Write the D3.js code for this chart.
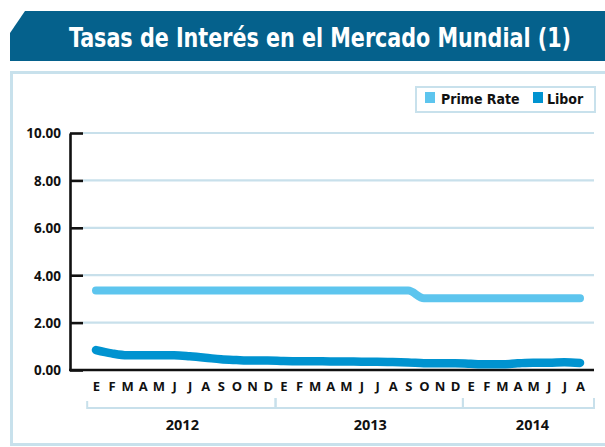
<!DOCTYPE html>
<html><head><meta charset="utf-8">
<script src="https://cdn.jsdelivr.net/npm/d3@7"></script>
<style>
html,body{margin:0;padding:0;background:#fff;}
svg{display:block;}
</style></head>
<body>
<svg id="chart" width="605" height="447"></svg>
<script>
// ---- data ----
const title = "Tasas de Interés en el Mercado Mundial (1)";
const months = ["E","F","M","A","M","J","J","A","S","O","N","D",
                "E","F","M","A","M","J","J","A","S","O","N","D",
                "E","F","M","A","M","J","J","A"];
const years = ["2012","2013","2014"];
const monthsPerYear = [12,12,8];
const seriesNames = ["Prime Rate","Libor"];
const primeRate = [3.35,3.35,3.35,3.35,3.35,3.35,3.35,3.35,3.35,3.35,3.35,3.35,
                   3.35,3.35,3.35,3.35,3.35,3.35,3.35,3.35,3.35,3.03,3.03,3.03,
                   3.03,3.03,3.03,3.03,3.03,3.03,3.03,3.03];
const libor = [0.84,0.70,0.62,0.62,0.62,0.62,0.58,0.52,0.45,0.42,0.40,0.40,
               0.38,0.37,0.37,0.36,0.36,0.35,0.35,0.34,0.32,0.29,0.28,0.29,
               0.26,0.24,0.24,0.28,0.31,0.31,0.33,0.30];
const yTicks = [0,2,4,6,8,10];

// ---- styles ----
const C = {banner:"#05618c", panel:"#c8e1ec", grid:"#c8e0eb", prime:"#5dc5ee", libor:"#0093d0", ink:"#111"};
const labelFont = "'Open Sans','DejaVu Sans',sans-serif";
const condFont = "'DejaVu Sans Condensed','Liberation Sans Narrow',sans-serif";

const svg = d3.select("#chart");

// banner
svg.append("path")
  .attr("d","M25,11 H605 V61 H10 V33 Z")
  .attr("fill",C.banner);
svg.append("text")
  .attr("transform","translate(320,47) scale(1,1.13)")
  .attr("text-anchor","middle")
  .attr("font-family",condFont)
  .attr("font-weight","bold").attr("font-size",23).attr("fill","#fff")
  .text(title);

// panel
svg.append("rect")
  .attr("x",11.5).attr("y",72.5).attr("width",600).attr("height",372)
  .attr("fill","none").attr("stroke",C.panel).attr("stroke-width",3);

// scales
const x = d3.scaleLinear().domain([0, months.length-1]).range([96, 580]);
const y = d3.scaleLinear().domain([0,10]).range([370,133]);
const axisX0 = 70, plotRight = 594;

// gridlines
svg.append("g").selectAll("line").data(yTicks.filter(d=>d>0)).join("line")
  .attr("x1",83).attr("x2",plotRight)
  .attr("y1",d=>y(d)).attr("y2",d=>y(d))
  .attr("stroke",C.grid).attr("stroke-width",2.2);

// y axis
const yAxis = svg.append("g").attr("transform",`translate(${axisX0},0)`)
  .call(d3.axisLeft(y).tickValues(yTicks).tickFormat(d3.format(".2f"))
        .tickSizeInner(-13).tickSizeOuter(0).tickPadding(9));
yAxis.select(".domain").attr("stroke",C.ink).attr("stroke-width",2.6);
yAxis.selectAll(".tick line").attr("stroke",C.ink).attr("stroke-width",2.6);
yAxis.selectAll(".tick text").attr("font-family",labelFont).attr("font-weight","bold")
  .attr("font-size",13.5).attr("fill",C.ink).attr("dy","0.36em");

// x baseline
svg.append("line").attr("x1",axisX0-1).attr("x2",plotRight)
  .attr("y1",y(0)).attr("y2",y(0)).attr("stroke",C.ink).attr("stroke-width",2.4);

// month labels
const xAxis = svg.append("g").attr("transform",`translate(0,382)`)
  .call(d3.axisBottom(x).tickValues(d3.range(months.length)).tickFormat(i=>months[i])
        .tickSize(0).tickPadding(0));
xAxis.select(".domain").remove();
xAxis.selectAll(".tick text").attr("font-family",labelFont).attr("font-weight","bold")
  .attr("font-size",13).attr("fill",C.ink).attr("dy","0.71em");

// year brackets
const step = x(1)-x(0);
let start = 0;
const brackets = years.map((yr,i)=>{
  const s = start, e = start + monthsPerYear[i] - 1;
  start += monthsPerYear[i];
  const x1 = x(s) - step/2 - (i===0 ? 1 : 0);
  const x2 = i===years.length-1 ? plotRight : x(e) + step/2;
  return {yr, x1, x2, first:i===0};
});
const bg = svg.append("g");
bg.selectAll("path").data(brackets).join("path")
  .attr("d",d=>`M${d.x1},${d.first?401:398} V408 H${d.x2} V398`)
  .attr("fill","none").attr("stroke",C.grid).attr("stroke-width",2);
bg.selectAll("text").data(brackets).join("text")
  .attr("x",d=>(d.x1+d.x2)/2 + (d.x2===plotRight?4:1)).attr("y",430)
  .attr("text-anchor","middle")
  .attr("font-family",labelFont).attr("font-weight","bold").attr("font-size",14.5).attr("fill",C.ink)
  .text(d=>d.yr);

// lines
const lineGen = d3.line().x((d,i)=>x(i)).y(d=>y(d)).curve(d3.curveMonotoneX);
svg.append("path").datum(primeRate).attr("d",lineGen)
  .attr("fill","none").attr("stroke",C.prime).attr("stroke-width",8)
  .attr("stroke-linecap","round").attr("stroke-linejoin","round");
svg.append("path").datum(libor).attr("d",lineGen)
  .attr("fill","none").attr("stroke",C.libor).attr("stroke-width",8.5)
  .attr("stroke-linecap","round").attr("stroke-linejoin","round");

// legend
const lg = svg.append("g");
lg.append("rect").attr("x",416).attr("y",87).attr("width",179).attr("height",25)
  .attr("fill","#fff").attr("stroke",C.panel).attr("stroke-width",2);
const legendItems = [
  {name:seriesNames[0], color:C.prime, sx:425, tx:441},
  {name:seriesNames[1], color:C.libor, sx:533, tx:547}
];
lg.selectAll("rect.sw").data(legendItems).join("rect").attr("class","sw")
  .attr("x",d=>d.sx).attr("y",92).attr("width",10).attr("height",11).attr("fill",d=>d.color);
lg.selectAll("text").data(legendItems).join("text")
  .attr("x",d=>d.tx).attr("y",104)
  .attr("font-family",condFont)
  .attr("font-weight","bold").attr("font-size",14).attr("fill",C.ink)
  .text(d=>d.name);
</script>
</body></html>
